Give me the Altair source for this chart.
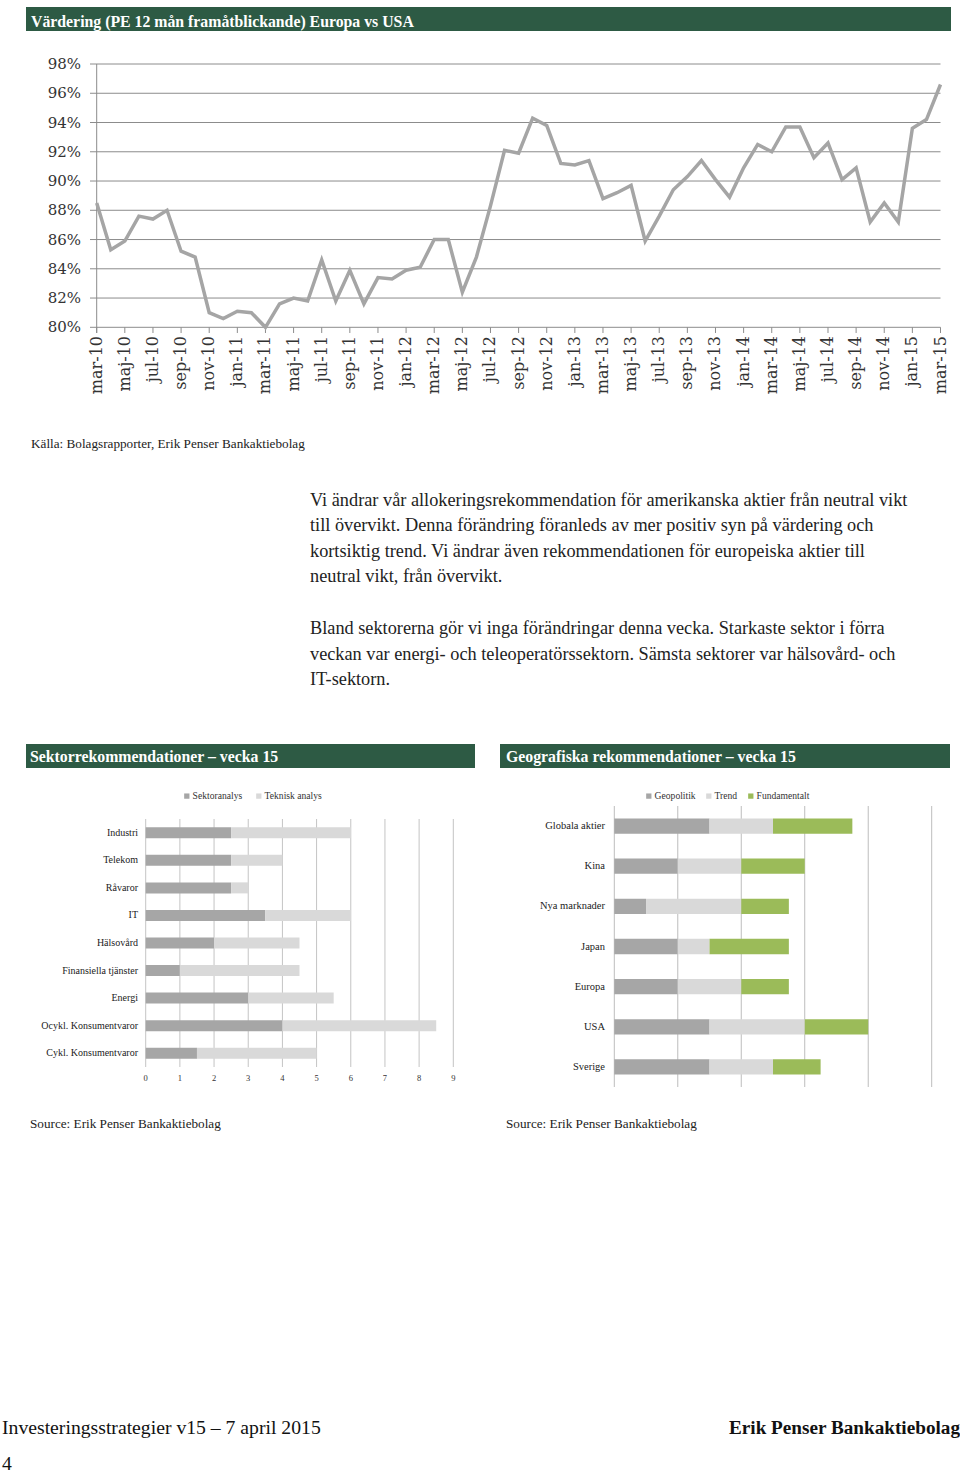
import altair as alt
import pandas as pd

GREEN = '#2d5a44'
SERIF = 'Liberation Serif'
AXFONT = 'DejaVu Serif'
TXT = '#222222'

# ---------------- data ----------------
month_names = ['jan', 'feb', 'mar', 'apr', 'maj', 'jun', 'jul', 'aug', 'sep', 'okt', 'nov', 'dec']
months = [f"{month_names[(2 + k) % 12]}-{10 + (2 + k) // 12}" for k in range(61)]
tick_months = months[::2]

pe_ratio = [88.5, 85.3, 85.9, 87.6, 87.4, 88.0, 85.2, 84.8, 81.0, 80.6,
            81.1, 81.0, 80.0, 81.6, 82.0, 81.8, 84.6, 81.8, 83.9, 81.6,
            83.4, 83.3, 83.9, 84.1, 86.0, 86.0, 82.4, 84.8, 88.3, 92.1,
            91.9, 94.3, 93.8, 91.2, 91.1, 91.4, 88.8, 89.2, 89.7, 85.9,
            87.6, 89.4, 90.3, 91.4, 90.1, 88.9, 90.9, 92.5, 92.0, 93.7,
            93.7, 91.6, 92.6, 90.1, 90.9, 87.2, 88.5, 87.2, 93.6, 94.2, 96.6]
y_ticks = [80, 82, 84, 86, 88, 90, 92, 94, 96, 98]

sectors = ['Industri', 'Telekom', 'Råvaror', 'IT', 'Hälsovård', 'Finansiella tjänster',
           'Energi', 'Ocykl. Konsumentvaror', 'Cykl. Konsumentvaror']
sektoranalys = [2.5, 2.5, 2.5, 3.5, 2, 1, 3, 4, 1.5]
teknisk_analys = [3.5, 1.5, 0.5, 2.5, 2.5, 3.5, 2.5, 4.5, 3.5]
sector_series = ['Sektoranalys', 'Teknisk analys']
sector_ticks = [0, 1, 2, 3, 4, 5, 6, 7, 8, 9]

regions = ['Globala aktier', 'Kina', 'Nya marknader', 'Japan', 'Europa', 'USA', 'Sverige']
geopolitik = [1.5, 1, 0.5, 1, 1, 1.5, 1.5]
trend = [1, 1, 1.5, 0.5, 1, 1.5, 1]
fundamentalt = [1.25, 1, 0.75, 1.25, 0.75, 1, 0.75]
geo_series = ['Geopolitik', 'Trend', 'Fundamentalt']
geo_ticks = [0, 1, 2, 3, 4, 5]

title_top = 'Värdering (PE 12 mån framåtblickande) Europa vs USA'
source_top = 'Källa: Bolagsrapporter, Erik Penser Bankaktiebolag'
para1 = ("Vi ändrar vår allokeringsrekommendation för amerikanska aktier från neutral vikt\n"
         "till övervikt. Denna förändring föranleds av mer positiv syn på värdering och\n"
         "kortsiktig trend. Vi ändrar även rekommendationen för europeiska aktier till\n"
         "neutral vikt, från övervikt.")
para2 = ("Bland sektorerna gör vi inga förändringar denna vecka. Starkaste sektor i förra\n"
         "veckan var energi- och teleoperatörssektorn. Sämsta sektorer var hälsovård- och\n"
         "IT-sektorn.")
title_left = 'Sektorrekommendationer – vecka 15'
title_right = 'Geografiska rekommendationer – vecka 15'
source_bottom = 'Source: Erik Penser Bankaktiebolag'
footer_left = 'Investeringsstrategier v15 – 7 april 2015'
footer_right = 'Erik Penser Bankaktiebolag'
page_no = '4'

# ---------------- tables ----------------
line_df = pd.DataFrame({'month': months, 'pe': pe_ratio, 'idx': list(range(len(months)))})
ytick_df = pd.DataFrame({'v': y_ticks, 'lab': [f"{v}%" for v in y_ticks]})
xtick_df = pd.DataFrame({'m': tick_months})

sec_rows = []
for i, s in enumerate(sectors):
    sec_rows.append({'cat': s, 'serie': sector_series[0], 'value': sektoranalys[i], 'ord': 0})
    sec_rows.append({'cat': s, 'serie': sector_series[1], 'value': teknisk_analys[i], 'ord': 1})
sec_df = pd.DataFrame(sec_rows)
sec_tick_df = pd.DataFrame({'v': sector_ticks})
sec_cat_df = pd.DataFrame({'cat': sectors})

geo_rows = []
for i, r in enumerate(regions):
    geo_rows.append({'cat': r, 'serie': geo_series[0], 'value': geopolitik[i], 'ord': 0})
    geo_rows.append({'cat': r, 'serie': geo_series[1], 'value': trend[i], 'ord': 1})
    geo_rows.append({'cat': r, 'serie': geo_series[2], 'value': fundamentalt[i], 'ord': 2})
geo_df = pd.DataFrame(geo_rows)
geo_tick_df = pd.DataFrame({'v': geo_ticks})
geo_cat_df = pd.DataFrame({'cat': regions})

one = pd.DataFrame({'k': [0]})

# ---------------- scales ----------------
line_x = alt.Scale(type='point', domain=months, range=[96.7, 940.5], padding=0)
line_y = alt.Scale(domain=[80, 98], range=[327.3, 64], zero=False, nice=False)
sec_x = alt.Scale(domain=[0, 9], range=[145.7, 453.3], zero=False, nice=False)
sec_y = alt.Scale(domain=sectors, range=[819, 1067], paddingInner=0.6, paddingOuter=0.3)
geo_x = alt.Scale(domain=[0, 5], range=[614.3, 931.7], zero=False, nice=False)
geo_y = alt.Scale(domain=regions, range=[806, 1087], paddingInner=0.62, paddingOuter=0.31)

layers = []


def text_layer(t, x, y, size, color=TXT, bold=False, align='left', font=SERIF, line_height=None):
    kw = dict(align=align, baseline='alphabetic', font=font, fontSize=size,
              fontWeight='bold' if bold else 'normal', color=color)
    if line_height:
        kw['lineBreak'] = '\n'
        kw['lineHeight'] = line_height
    return alt.Chart(pd.DataFrame({'t': [t]})).mark_text(**kw).encode(
        x=alt.value(x), y=alt.value(y), text='t:N')


def header(x1, x2, y1, y2):
    return alt.Chart(one).mark_rect(color=GREEN).encode(
        x=alt.value(x1), x2=alt.value(x2), y=alt.value(y1), y2=alt.value(y2))


def legend(x, y, size, gap):
    return alt.Legend(orient='none', legendX=x, legendY=y, direction='horizontal',
                      title=None, symbolType='square', symbolSize=28,
                      symbolStrokeWidth=0, labelFont=SERIF, labelFontSize=size,
                      labelColor='#333333', columnPadding=gap, labelOffset=1,
                      padding=0)


# ---- top header
layers.append(header(26, 951, 7, 31))
layers.append(text_layer(title_top, 31, 26.5, 15.8, color='white', bold=True))

# ---- line chart
layers.append(alt.Chart(ytick_df).mark_rule(color='#8c8c8c', strokeWidth=1).encode(
    y=alt.Y('v:Q', scale=line_y, axis=None), x=alt.value(90), x2=alt.value(940.5)))
layers.append(alt.Chart(one).mark_rule(color='#8c8c8c', strokeWidth=1).encode(
    x=alt.value(96.7), y=alt.value(64), y2=alt.value(333)))
layers.append(alt.Chart(xtick_df).mark_rule(color='#8c8c8c', strokeWidth=1).encode(
    x=alt.X('m:N', scale=line_x, axis=None), y=alt.value(327.3), y2=alt.value(333)))
layers.append(alt.Chart(ytick_df).mark_text(align='right', baseline='middle', font=AXFONT,
                                            fontSize=15, color='#333333').encode(
    y=alt.Y('v:Q', scale=line_y, axis=None), x=alt.value(81), text='lab:N'))
layers.append(alt.Chart(xtick_df).mark_text(align='right', baseline='middle', angle=270, font=AXFONT,
                                            fontSize=16, color='#333333').encode(
    x=alt.X('m:N', scale=line_x, axis=None), y=alt.value(336), text='m:N'))
layers.append(alt.Chart(line_df).mark_line(color='#a5a5a5', strokeWidth=3.5).encode(
    x=alt.X('month:N', scale=line_x, axis=None),
    y=alt.Y('pe:Q', scale=line_y, axis=None),
    order=alt.Order('idx:Q')))

layers.append(text_layer(source_top, 31, 447.5, 13.2))

# ---- paragraphs
layers.append(text_layer(para1, 310, 505.5, 18.3, line_height=25.6))
layers.append(text_layer(para2, 310, 634.3, 18.3, line_height=25.6))

# ---- section headers
layers.append(header(26, 475, 744, 768))
layers.append(text_layer(title_left, 30, 761.5, 15.8, color='white', bold=True))
layers.append(header(500, 950, 744, 768))
layers.append(text_layer(title_right, 506, 761.5, 15.8, color='white', bold=True))

# ---- sector chart
layers.append(alt.Chart(sec_tick_df).mark_rule(color='#c4c4c4', strokeWidth=1).encode(
    x=alt.X('v:Q', scale=sec_x, axis=None), y=alt.value(819), y2=alt.value(1067)))
layers.append(alt.Chart(sec_df).mark_bar().encode(
    x=alt.X('value:Q', stack='zero', scale=sec_x, axis=None),
    y=alt.Y('cat:N', scale=sec_y, axis=None, sort=sectors),
    color=alt.Color('serie:N', scale=alt.Scale(domain=sector_series, range=['#a6a6a6', '#d9d9d9']),
                    legend=legend(182, 791, 9.6, 11)),
    order=alt.Order('ord:Q')))
layers.append(alt.Chart(sec_tick_df).mark_text(align='center', baseline='middle', font=SERIF,
                                               fontSize=8.5, color='#333333').encode(
    x=alt.X('v:Q', scale=sec_x, axis=None), y=alt.value(1078), text='v:Q'))
layers.append(alt.Chart(sec_cat_df).mark_text(align='right', baseline='middle', font=SERIF,
                                              fontSize=10, color='#222222').encode(
    y=alt.Y('cat:N', scale=sec_y, axis=None, sort=sectors), x=alt.value(138), text='cat:N'))

# ---- geo chart
layers.append(alt.Chart(geo_tick_df).mark_rule(color='#bdbdbd', strokeWidth=1).encode(
    x=alt.X('v:Q', scale=geo_x, axis=None), y=alt.value(806), y2=alt.value(1087)))
layers.append(alt.Chart(geo_df).mark_bar().encode(
    x=alt.X('value:Q', stack='zero', scale=geo_x, axis=None),
    y=alt.Y('cat:N', scale=geo_y, axis=None, sort=regions),
    color=alt.Color('serie:N', scale=alt.Scale(domain=geo_series,
                                               range=['#a6a6a6', '#d9d9d9', '#9bbb59']),
                    legend=legend(644, 791, 9.6, 8)),
    order=alt.Order('ord:Q')))
layers.append(alt.Chart(geo_cat_df).mark_text(align='right', baseline='middle', font=SERIF,
                                              fontSize=10.5, color='#222222').encode(
    y=alt.Y('cat:N', scale=geo_y, axis=None, sort=regions), x=alt.value(605), text='cat:N'))

# ---- sources and footer
layers.append(text_layer(source_bottom, 30, 1127.5, 13.2))
layers.append(text_layer(source_bottom, 506, 1127.5, 13.2))
layers.append(text_layer(footer_left, 2, 1433.5, 19.7, color='#111111'))
layers.append(text_layer(footer_right, 960, 1433.5, 19.2, color='#111111', bold=True, align='right'))
layers.append(text_layer(page_no, 2, 1469.5, 19.7, color='#111111'))

chart = alt.layer(*layers).resolve_scale(
    x='independent', y='independent', color='independent'
).properties(
    width=960, height=1473, padding=0, autosize=alt.AutoSizeParams(type='none'),
    background='white'
).configure_view(strokeWidth=0)

chart.save("out.html", embed_options={"renderer": "svg", "actions": False})
